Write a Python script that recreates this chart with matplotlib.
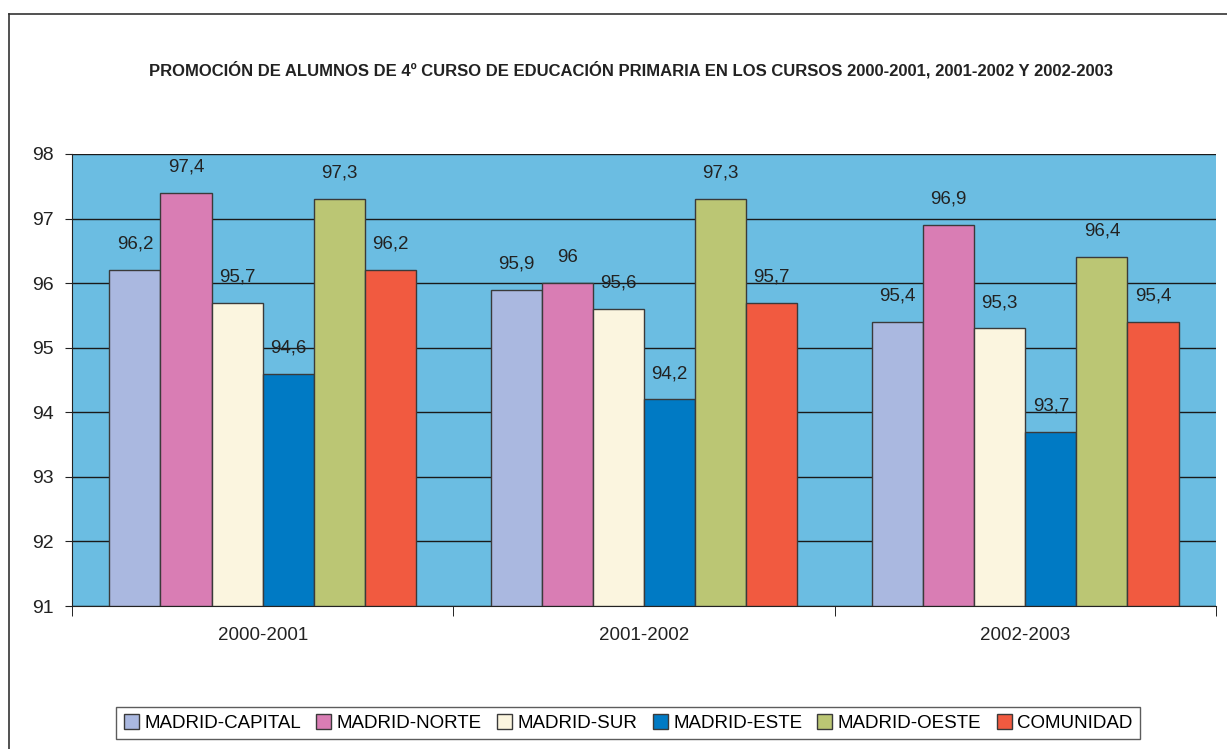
import matplotlib.pyplot as plt
import numpy as np
from matplotlib.lines import Line2D

# data
cursos = ['2000-2001', '2001-2002', '2002-2003']
zonas = ['MADRID-CAPITAL', 'MADRID-NORTE', 'MADRID-SUR',
         'MADRID-ESTE', 'MADRID-OESTE', 'COMUNIDAD']
capital = [96.2, 95.9, 95.4]
norte = [97.4, 96.0, 96.9]
sur = [95.7, 95.6, 95.3]
este = [94.6, 94.2, 93.7]
oeste = [97.3, 97.3, 96.4]
comunidad = [96.2, 95.7, 95.4]
series = [capital, norte, sur, este, oeste, comunidad]
colores = ['#AAB8E0', '#D97DB4', '#FBF5DF', '#007AC4', '#BBC674', '#F15A40']

plt.rcParams['font.family'] = ['Liberation Sans', 'DejaVu Sans']

fig = plt.figure(figsize=(12.27, 7.49), dpi=100)
ax = fig.add_axes([0.0587, 0.1909, 0.9323, 0.6035])
ax.set_facecolor('#6BBDE2')

x = np.arange(len(cursos))
w = 0.134
for i, (vals, col) in enumerate(zip(series, colores)):
    pos = x + (i - 2.5) * w
    ax.bar(pos, np.array(vals) - 91, w, bottom=91, color=col,
           edgecolor='#3a3a3a', linewidth=1, label=zonas[i], zorder=3)
    for px, v in zip(pos, vals):
        txt = ('%g' % v).replace('.', ',')
        ax.text(px, v + 0.40, txt, ha='center', va='center',
                fontsize=13.5, color='#222222', zorder=4)

ax.set_ylim(91, 98)
ax.set_xlim(-0.5, 2.5)
ax.set_yticks(range(91, 99))
ax.yaxis.grid(True, color='#1a1a1a', linewidth=1, zorder=1)
ax.set_axisbelow(True)
ax.tick_params(axis='y', direction='out', length=5, labelsize=14,
               colors='#222222', pad=8)

ax.set_xticks(x)
ax.set_xticklabels(cursos, fontsize=13.5, color='#222222')
ax.tick_params(axis='x', length=0, pad=15)
ax.set_xticks([-0.5, 0.5, 1.5, 2.5], minor=True)
ax.tick_params(axis='x', which='minor', direction='out', length=7)

for s in ['top', 'right']:
    ax.spines[s].set_visible(False)
ax.spines['left'].set_color('#222222')
ax.spines['bottom'].set_color('#222222')

fig.text(0.514, 0.9065,
         'PROMOCIÓN DE ALUMNOS DE 4º CURSO DE EDUCACIÓN PRIMARIA EN LOS CURSOS 2000-2001, 2001-2002 Y 2002-2003',
         ha='center', va='center', fontsize=12, fontweight='bold', color='#222222')

leg = fig.legend(loc='center', bbox_to_anchor=(0.512, 0.0347), ncol=6,
                 fontsize=13.5, frameon=True, fancybox=False,
                 handlelength=0.8, handleheight=0.8, handletextpad=0.3,
                 columnspacing=0.8, borderpad=0.4)
leg.get_frame().set_edgecolor('#333333')
leg.get_frame().set_linewidth(1)

# outer frame (left and top only)
fig.add_artist(Line2D([0.0073, 0.0073], [0, 0.9813], color='#333333', linewidth=1.2))
fig.add_artist(Line2D([0.0073, 1], [0.9813, 0.9813], color='#333333', linewidth=1.2))

fig.savefig('out.png', dpi=100)
